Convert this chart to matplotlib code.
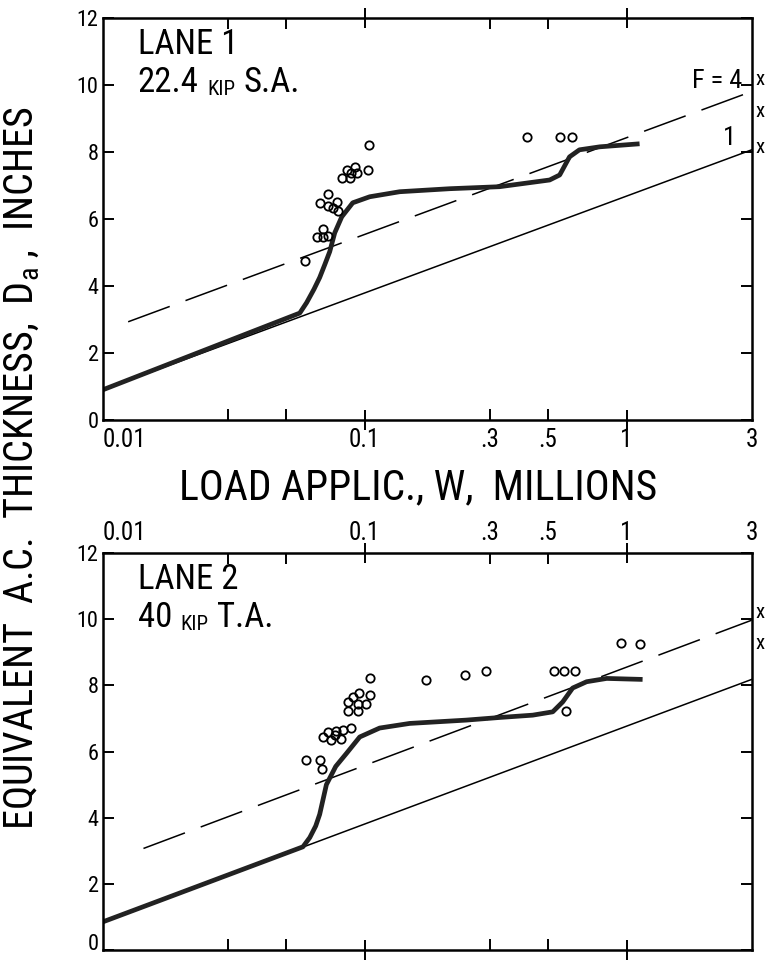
import matplotlib
matplotlib.use('Agg')
import matplotlib.pyplot as plt
from matplotlib import font_manager
from matplotlib.ticker import FixedLocator, NullFormatter
import matplotlib.transforms as mtransforms

# ---- data ----
xticks = [0.01, 0.1, 0.3, 0.5, 1, 3]
xticklabels = ['0.01', '0.1', '.3', '.5', '1', '3']
xminor = [0.03, 0.05]
yticks = [0, 2, 4, 6, 8, 10, 12]

# lane 1 (22.4 kip single axle)
curve1_w = [0.01, 0.0565, 0.060, 0.064, 0.0673, 0.0705, 0.0735, 0.0768, 0.0817, 0.090,
            0.1045, 0.136, 0.211, 0.327, 0.508, 0.555, 0.605, 0.66, 0.79, 1.12]
curve1_d = [0.9, 3.19, 3.5, 3.9, 4.25, 4.65, 5.02, 5.58, 6.06, 6.48,
            6.66, 6.81, 6.9, 6.96, 7.16, 7.31, 7.85, 8.06, 8.15, 8.24]
obs1_w = [0.1036, 0.1027, 0.0817, 0.0853, 0.0877, 0.0916, 0.0933, 0.089,
          0.0723, 0.0673, 0.0723, 0.0782, 0.0788, 0.0755,
          0.0692, 0.0655, 0.0692, 0.0723, 0.059, 0.415, 0.555, 0.616]
obs1_d = [8.21, 7.46, 7.22, 7.46, 7.22, 7.55, 7.37, 7.37,
          6.75, 6.48, 6.39, 6.51, 6.24, 6.33,
          5.70, 5.46, 5.46, 5.49, 4.75, 8.45, 8.45, 8.45]
f1_w = [0.01, 3]
f1_d = [0.9, 8.06]
f4_1_w = [0.0125, 3]
f4_1_d = [2.93, 9.8]
marks1_d = [10.15, 9.2, 8.12]

# lane 2 (40 kip tandem axle)
curve2_w = [0.01, 0.0581, 0.0617, 0.0650, 0.0673, 0.0714, 0.0775, 0.0851, 0.0957, 0.114,
            0.1485, 0.244, 0.328, 0.438, 0.522, 0.570, 0.622, 0.703, 0.839, 1.15]
curve2_d = [0.85, 3.12, 3.4, 3.75, 4.1, 5.0, 5.55, 5.94, 6.44, 6.71,
            6.85, 6.95, 7.03, 7.10, 7.20, 7.50, 7.92, 8.11, 8.21, 8.18]
obs2_w = [0.105, 0.0864, 0.0902, 0.0951, 0.1045, 0.101, 0.0943, 0.0864, 0.0943,
          0.0690, 0.0724, 0.078, 0.0827, 0.0885, 0.0746, 0.0814, 0.0768,
          0.0599, 0.0673, 0.0685, 0.171, 0.241, 0.291,
          0.527, 0.575, 0.634, 0.585, 0.954, 1.12]
obs2_d = [8.23, 7.50, 7.65, 7.76, 7.70, 7.45, 7.45, 7.22, 7.22,
          6.43, 6.60, 6.63, 6.65, 6.70, 6.34, 6.37, 6.50,
          5.74, 5.74, 5.47, 8.16, 8.31, 8.44,
          8.44, 8.44, 8.44, 7.22, 9.27, 9.24]
f1_2_w = [0.01, 3]
f1_2_d = [0.85, 8.18]
f4_2_w = [0.0143, 3]
f4_2_d = [3.07, 9.97]
marks2_d = [10.2, 9.27]

# narrow lettering if we have it
names = {f.name for f in font_manager.fontManager.ttflist}
fam = 'DejaVu Sans'
for cand in ['Roboto Condensed', 'Liberation Sans Narrow', 'DejaVu Sans Condensed']:
    if cand in names:
        fam = cand
        break
plt.rcParams['font.family'] = fam
plt.rcParams['mathtext.fontset'] = 'custom'
plt.rcParams['mathtext.rm'] = fam

fig = plt.figure(figsize=(7.67, 9.6), dpi=100)
ax1 = fig.add_axes([0.134, 0.5625, 0.846, 0.419])
ax2 = fig.add_axes([0.134, 0.0104, 0.846, 0.4135])


def panel(ax, cw, cd, ow, od, tw, td, dw, dd, marks, top_labels):
    ax.set_xscale('log')
    ax.set_xlim(0.01, 3)
    ax.set_ylim(0, 12)
    ax.plot(tw, td, color='black', lw=1.1)
    dl, = ax.plot(dw, dd, color='black', lw=1.1)
    dl.set_dashes([29, 11])
    ax.plot(cw, cd, color='#222222', lw=3.4, solid_joinstyle='round',
            solid_capstyle='butt')
    ax.plot(ow, od, 'o', ms=6, mfc='none', mec='black', mew=1.3)
    for s in ax.spines.values():
        s.set_linewidth(1.8)
    ax.set_yticks(yticks)
    ax.set_xticks(xticks)
    ax.set_xticklabels(xticklabels)
    ax.xaxis.set_minor_locator(FixedLocator(xminor))
    ax.xaxis.set_minor_formatter(NullFormatter())
    ax.tick_params(axis='y', direction='in', length=8, width=1.4,
                   left=True, right=True, labelsize=16, pad=3)
    ax.tick_params(axis='x', which='both', direction='in', length=8, width=1.4,
                   top=True, bottom=True, labelsize=18, pad=6,
                   labeltop=top_labels, labelbottom=not top_labels)
    for t, loc in zip(ax.xaxis.get_major_ticks(), xticks):
        if loc in (0.01, 3):
            t.tick1line.set_visible(False)
            t.tick2line.set_visible(False)
        elif loc in (0.1, 1):
            for ln in (t.tick1line, t.tick2line):
                ln.set_marker('|')
                ln.set_markersize(15)
        if loc == 0.01:
            t.label1.set_ha('left')
            t.label2.set_ha('left')
    tr = mtransforms.blended_transform_factory(ax.transAxes, ax.transData)
    for m in marks:
        ax.text(1.006, m, 'x', transform=tr, fontsize=15, va='center',
                ha='left', clip_on=False)


panel(ax1, curve1_w, curve1_d, obs1_w, obs1_d, f1_w, f1_d, f4_1_w, f4_1_d,
      marks1_d, False)
panel(ax2, curve2_w, curve2_d, obs2_w, obs2_d, f1_2_w, f1_2_d, f4_2_w, f4_2_d,
      marks2_d, True)
# the lowest "0" sits right at the bottom edge
ax2.yaxis.get_major_ticks()[0].label1.set_va('baseline')

# panel titles
ax1.text(0.054, 0.933, 'LANE 1', transform=ax1.transAxes, fontsize=25,
         va='center', ha='left')
t = ax1.text(0.054, 0.838, '22.4', transform=ax1.transAxes, fontsize=25,
             va='center', ha='left')
k = ax1.annotate('KIP', xy=(1, 0), xycoords=t, xytext=(6, 0),
                 textcoords='offset points', fontsize=15, va='bottom')
ax1.annotate('S.A.', xy=(1, 0), xycoords=k, xytext=(6, 0),
             textcoords='offset points', fontsize=25, va='bottom')
ax1.text(2.75, 10.1, 'F = 4', fontsize=19, ha='right', va='center')
ax1.text(2.62, 8.4, '1', fontsize=19, ha='right', va='center')

ax2.text(0.054, 0.933, 'LANE 2', transform=ax2.transAxes, fontsize=25,
         va='center', ha='left')
t = ax2.text(0.054, 0.838, '40', transform=ax2.transAxes, fontsize=25,
             va='center', ha='left')
k = ax2.annotate('KIP', xy=(1, 0), xycoords=t, xytext=(6, 0),
                 textcoords='offset points', fontsize=15, va='bottom')
ax2.annotate('T.A.', xy=(1, 0), xycoords=k, xytext=(6, 0),
             textcoords='offset points', fontsize=25, va='bottom')

fig.text(0.545, 1 - 488 / 960, 'LOAD APPLIC., W,  MILLIONS', fontsize=30,
         ha='center', va='center')
fig.text(0.029, 0.512, r'EQUIVALENT  A.C.  THICKNESS,  D$_{\mathrm{a}}$ ,  INCHES',
         fontsize=29, rotation=90, ha='center', va='center')

fig.savefig('out.png', dpi=100)
